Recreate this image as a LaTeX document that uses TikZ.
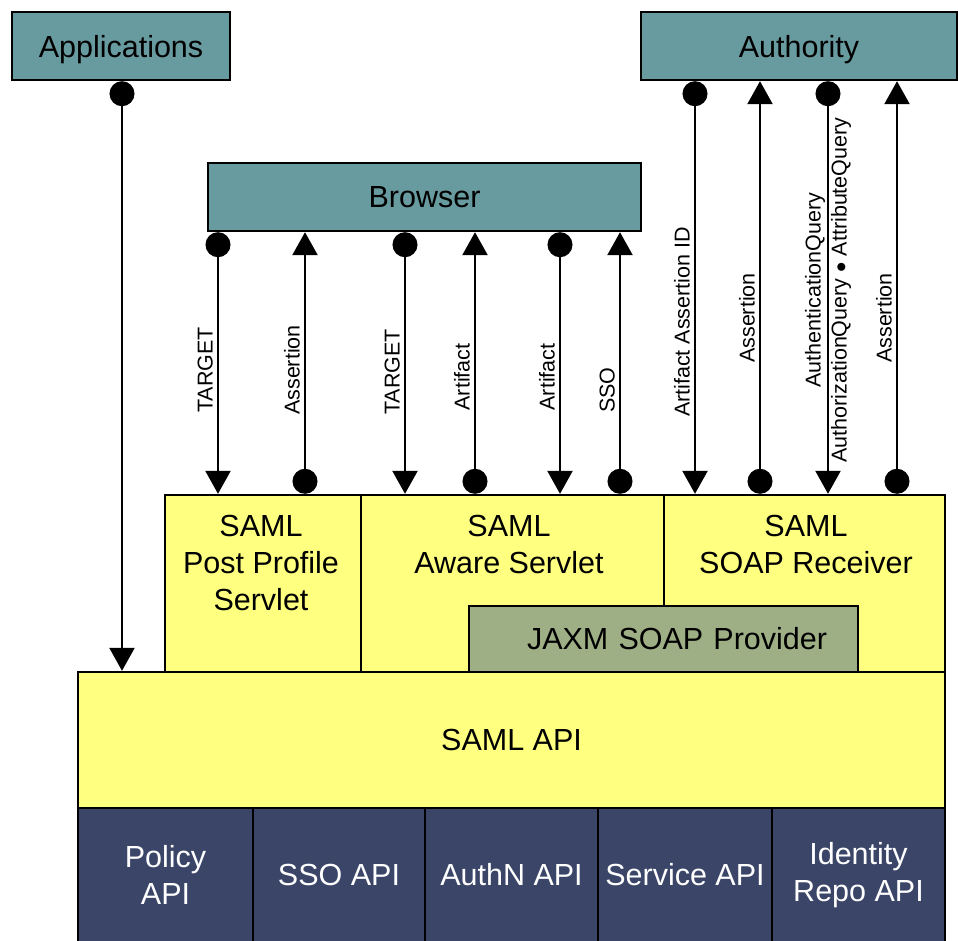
\documentclass[tikz,border=0pt]{standalone}
\usepackage{fontspec}
\setmainfont{Liberation Sans}
\usetikzlibrary{arrows.meta}
\definecolor{webteal}{HTML}{689BA0}
\definecolor{servletyellow}{HTML}{FFFF80}
\definecolor{soapgreen}{HTML}{9EAF85}
\definecolor{apinavy}{HTML}{3A4568}
\newcommand{\boxfont}{\fontsize{30.5}{37}\selectfont}
\newcommand{\labelfont}{\fontsize{21.5}{26}\selectfont}
\tikzset{
    box/.style={draw, line width=2.4pt, inner sep=0pt, font=\boxfont},
    client/.style={box, fill=webteal, text depth=0pt},
    servlet/.style={box, fill=servletyellow},
    provider/.style={box, fill=soapgreen},
    service/.style={box, fill=apinavy, text=white, align=center},
    boxtext/.style={font=\boxfont, align=center, anchor=north, inner sep=0pt},
    msg/.style={line width=2.4pt},
    sendmsg/.style={msg, {Circle[length=25pt]}-{Triangle[length=23pt, width=25pt]}},
    replymsg/.style={msg, {Triangle[length=23pt, width=25pt]}-{Circle[length=25pt]}},
    msglabel/.style={rotate=90, anchor=south, inner sep=2pt, font=\labelfont, align=center},
}
\newcommand{\samlmsg}[6][sendmsg]{
    \coordinate (col#2) at (#2,0);
    \draw[#1] (#3.south -| col#2) -- (#4.north -| col#2);
    \node[msglabel] (lab#2) at (#2-3,#5) {#6};
}

\begin{document}
\begin{tikzpicture}[x=1pt, y=-1pt]
    \useasboundingbox (0,0) rectangle (958,940);

    % servlets
    \node[servlet, minimum width=196pt, minimum height=177pt] (postservlet) at (263,583.5) {};
    \node[servlet, minimum width=303pt, minimum height=177pt] (awareservlet) at (512.5,583.5) {};
    \node[servlet, minimum width=281pt, minimum height=177pt] (soaprecv) at (804.5,583.5) {};
    \node[boxtext] (posttext) at (261,515) {SAML\\Post Profile\\Servlet};
    \node[boxtext] (awaretext) at (509,515) {SAML\\Aware Servlet};
    \node[boxtext] (soaptext) at (806,515) {SAML\\SOAP Receiver};
    \node[provider, minimum width=389pt, minimum height=66pt,
          text width=327pt, inner xsep=31pt, align=right] (jaxm) at (663.5,639) {JAXM SOAP Provider};

    % api layers
    \node[servlet, minimum width=867pt, minimum height=136pt] (samlapi) at (511.5,740) {SAML API};
    \node[service, minimum width=175pt, minimum height=134pt] (policyapi) at (165.5,875) {Policy\\API};
    \node[service, minimum width=172pt, minimum height=134pt] (ssoapi) at (339,875) {SSO API};
    \node[service, minimum width=173pt, minimum height=134pt] (authnapi) at (511.5,875) {AuthN API};
    \node[service, minimum width=174pt, minimum height=134pt] (serviceapi) at (685,875) {Service API};
    \node[service, minimum width=173pt, minimum height=134pt] (identityapi) at (858.5,875) {Identity\\Repo API};

    % clients
    \node[client, minimum width=218pt, minimum height=68pt] (apps) at (121,46) {Applications};
    \node[client, minimum width=316pt, minimum height=68pt] (authority) at (799,46) {Authority};
    \node[client, minimum width=433pt, minimum height=68pt] (browser) at (424.5,197) {Browser};

    \coordinate (col122) at (122,0);
    \draw[sendmsg] (apps.south -| col122) -- (samlapi.north -| col122);

    \samlmsg{218}{browser}{postservlet}{370}{TARGET}
    \samlmsg[replymsg]{305}{browser}{postservlet}{370}{Assertion}
    \samlmsg{405}{browser}{awareservlet}{372}{TARGET}
    \samlmsg[replymsg]{475}{browser}{awareservlet}{377}{Artifact}
    \samlmsg{560}{browser}{awareservlet}{377}{Artifact}
    \samlmsg[replymsg]{620}{browser}{awareservlet}{390}{SSO}

    \samlmsg{695}{authority}{soaprecv}{322}{Artifact Assertion ID}
    \samlmsg[replymsg]{760}{authority}{soaprecv}{318}{Assertion}
    \coordinate (col828) at (828,0);
    \draw[sendmsg] (authority.south -| col828) -- (soaprecv.north -| col828);
    \node[msglabel, anchor=center] (lab828) at (828,290) {AuthenticationQuery\\AuthorizationQuery $\bullet$ AttributeQuery};
    \samlmsg[replymsg]{897}{authority}{soaprecv}{318}{Assertion}

\end{tikzpicture}
\end{document}
